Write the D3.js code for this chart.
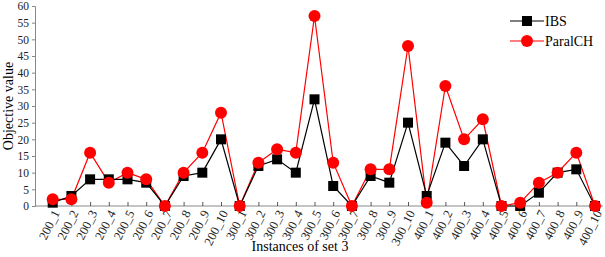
<!DOCTYPE html>
<html>
<head>
<meta charset="utf-8">
<script src="https://cdn.jsdelivr.net/npm/d3@7"></script>
<style>
  body { margin: 0; background: #fff; }
  text { font-family: "Liberation Serif", "DejaVu Serif", serif; }
</style>
</head>
<body>
<svg id="chart"></svg>
<script>
const instances = [
    "200_1", "200_2", "200_3", "200_4", "200_5", "200_6", "200_7", "200_8", "200_9", "200_10",
    "300_1", "300_2", "300_3", "300_4", "300_5", "300_6", "300_7", "300_8", "300_9", "300_10",
    "400_1", "400_2", "400_3", "400_4", "400_5", "400_6", "400_7", "400_8", "400_9", "400_10"
];
const ibs = [1, 3, 8, 8, 8, 7, 0, 9, 10, 20,
             0, 12, 14, 10, 32, 6, 0, 9, 7, 25,
             3, 19, 12, 20, 0, 0, 4, 10, 11, 0];
const paralch = [2, 2, 16, 7, 10, 8, 0, 10, 16, 28,
                 0, 13, 17, 16, 57, 13, 0, 11, 11, 48,
                 1, 36, 20, 26, 0, 1, 7, 10, 16, 0];
const yTicks = d3.range(0, 61, 5);

const width = 605, height = 257;
const svg = d3.select("#chart").attr("width", width).attr("height", height);

const axisLeftX = 35, axisRightX = 603;

const x = d3.scalePoint()
    .domain(instances)
    .range([52.7, 595]);

const y = d3.scaleLinear()
    .domain([0, 60])
    .range([206, 6]);

// y axis
const yAxis = svg.append("g")
    .attr("transform", `translate(${axisLeftX},0)`)
    .call(d3.axisLeft(y).tickValues(yTicks).tickSize(3).tickPadding(3));
yAxis.select(".domain").attr("stroke", "#888");
yAxis.selectAll(".tick line").attr("stroke", "#888");
yAxis.selectAll("text")
    .style("font-family", "Liberation Serif, serif")
    .style("font-size", "11.5px")
    .attr("fill", "#222");

// x axis line
svg.append("line")
    .attr("x1", axisLeftX).attr("x2", axisRightX)
    .attr("y1", y(0)).attr("y2", y(0))
    .attr("stroke", "#888");

const xAxis = svg.append("g")
    .attr("transform", `translate(0,${y(0)})`)
    .call(d3.axisBottom(x).tickSize(-4).tickSizeOuter(0).tickPadding(0));
xAxis.select(".domain").remove();
xAxis.selectAll(".tick line").attr("stroke", "#555");
xAxis.selectAll("text")
    .style("font-family", "Liberation Serif, serif")
    .style("font-size", "12.5px")
    .attr("fill", "#222")
    .attr("text-anchor", "end")
    .attr("dy", "0.35em")
    .attr("transform", "translate(3,5) rotate(-63)");

// series
const line = d3.line()
    .x((d, i) => x(instances[i]))
    .y(d => y(d));

svg.append("path")
    .datum(paralch)
    .attr("fill", "none")
    .attr("stroke", "#ff0000")
    .attr("stroke-width", 1.2)
    .attr("d", line);

svg.append("path")
    .datum(ibs)
    .attr("fill", "none")
    .attr("stroke", "#000")
    .attr("stroke-width", 1.2)
    .attr("d", line);

const sq = 10;
svg.append("g")
    .selectAll("rect")
    .data(ibs)
    .join("rect")
    .attr("x", (d, i) => x(instances[i]) - sq / 2)
    .attr("y", d => y(d) - sq / 2)
    .attr("width", sq)
    .attr("height", sq)
    .attr("fill", "#000");

svg.append("g")
    .selectAll("circle")
    .data(paralch)
    .join("circle")
    .attr("cx", (d, i) => x(instances[i]))
    .attr("cy", d => y(d))
    .attr("r", 6)
    .attr("fill", "#ff0000");

// axis titles
svg.append("text")
    .attr("x", 300)
    .attr("y", 251)
    .attr("text-anchor", "middle")
    .style("font-size", "14px")
    .text("Instances of set 3");

svg.append("text")
    .attr("transform", "translate(13,106) rotate(-90)")
    .attr("text-anchor", "middle")
    .style("font-size", "14px")
    .text("Objective value");

// legend
const legend = svg.append("g");
const legendItems = [
    { name: "IBS", color: "#000", shape: "square", y: 21 },
    { name: "ParalCH", color: "#ff0000", shape: "circle", y: 41 }
];
legendItems.forEach(item => {
    legend.append("line")
        .attr("x1", 510).attr("x2", 544)
        .attr("y1", item.y).attr("y2", item.y)
        .attr("stroke", item.color)
        .attr("stroke-width", 1.2);
    if (item.shape === "square") {
        legend.append("rect")
            .attr("x", 527 - sq / 2).attr("y", item.y - sq / 2)
            .attr("width", sq).attr("height", sq)
            .attr("fill", item.color);
    } else {
        legend.append("circle")
            .attr("cx", 527).attr("cy", item.y).attr("r", 6)
            .attr("fill", item.color);
    }
    legend.append("text")
        .attr("x", 545)
        .attr("y", item.y)
        .attr("dy", "0.35em")
        .style("font-size", "14px")
        .text(item.name);
});
</script>
</body>
</html>
